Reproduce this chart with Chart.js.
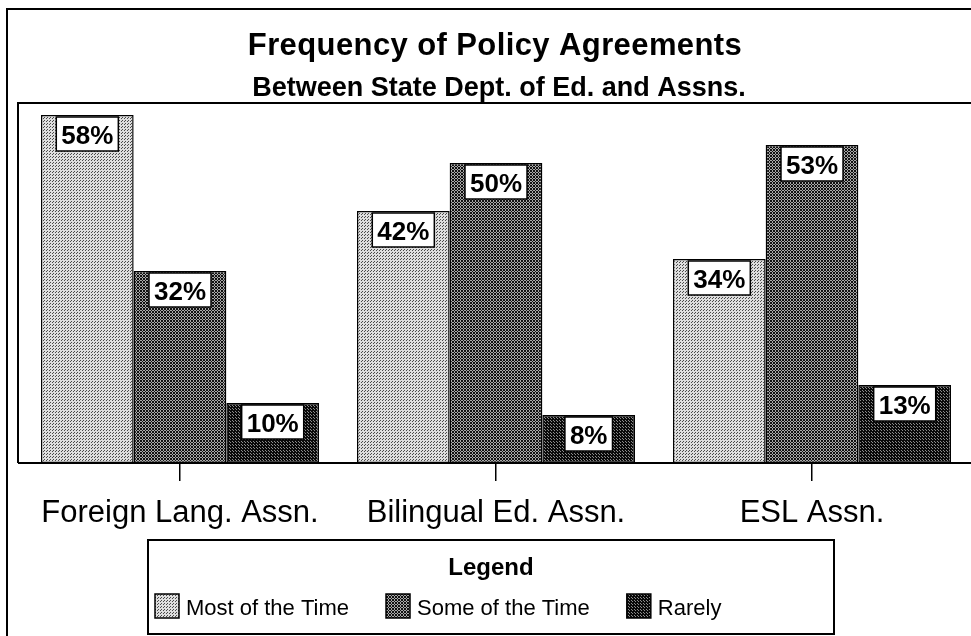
<!DOCTYPE html>
<html>
<head>
<meta charset="utf-8">
<script src="https://cdn.jsdelivr.net/npm/chart.js@4.4.1/dist/chart.umd.min.js"></script>
<style>
  html, body { margin: 0; padding: 0; background: #fff; }
  canvas { display: block; }
</style>
</head>
<body>
<canvas id="chart-policy" width="971" height="636"></canvas>
<script>
const categories = ["Foreign Lang. Assn.", "Bilingual Ed. Assn.", "ESL Assn."];
const seriesNames = ["Most of the Time", "Some of the Time", "Rarely"];
const mostValues = [58, 42, 34];
const someValues = [32, 50, 53];
const rarelyValues = [10, 8, 13];

const FONT = "'Liberation Sans', Arial, Helvetica, sans-serif";

// little dot screens like the printed halftone
function makePattern(base, dot, spots) {
  const c = document.createElement("canvas");
  c.width = 3;
  c.height = 3;
  const g = c.getContext("2d");
  g.fillStyle = base;
  g.fillRect(0, 0, 3, 3);
  g.fillStyle = dot;
  spots.forEach((p) => g.fillRect(p[0], p[1], 1, 1));
  return g.createPattern(c, "repeat");
}

const patternMost = makePattern("#dedede", "#4a4a4a", [[1, 1], [2, 0]]);
const patternSome = makePattern("#a8a8a8", "#111111", [[0, 0], [1, 1], [2, 2], [0, 2], [2, 0]]);
const patternRarely = makePattern("#8c8c8c", "#0a0a0a", [[0, 0], [1, 1], [2, 2], [0, 2], [2, 0], [1, 2], [0, 1]]);

const framePlugin = {
  id: "frames",
  beforeDraw(chart) {
    const ctx = chart.ctx;
    const a = chart.chartArea;
    ctx.save();
    ctx.strokeStyle = "#000";
    ctx.lineWidth = 2;
    // outer frame
    ctx.beginPath();
    ctx.moveTo(7, 636);
    ctx.lineTo(7, 9);
    ctx.lineTo(971, 9);
    ctx.stroke();
    // plot frame
    ctx.beginPath();
    ctx.moveTo(18, a.bottom);
    ctx.lineTo(18, a.top);
    ctx.lineTo(971, a.top);
    ctx.moveTo(18, a.bottom);
    ctx.lineTo(971, a.bottom);
    ctx.stroke();

    // titles
    ctx.fillStyle = "#000";
    ctx.textAlign = "center";
    ctx.textBaseline = "alphabetic";
    ctx.font = "bold 31px " + FONT;
    ctx.letterSpacing = "0.4px";
    ctx.fillText("Frequency of Policy Agreements", 495, 55);
    ctx.font = "bold 27px " + FONT;
    ctx.letterSpacing = "0px";
    ctx.fillText("Between State Dept. of Ed. and Assns.", 499, 96);
    ctx.restore();
  },
  afterDatasetsDraw(chart) {
    const ctx = chart.ctx;
    ctx.save();
    ctx.font = "bold 26px " + FONT;
    ctx.textAlign = "center";
    ctx.textBaseline = "alphabetic";
    chart.data.datasets.forEach((ds, di) => {
      chart.getDatasetMeta(di).data.forEach((bar, i) => {
        const txt = ds.data[i] + "%";
        const w = ctx.measureText(txt).width + 10;
        const h = 34;
        const x = bar.x - w / 2;
        const y = bar.y + 2;
        ctx.fillStyle = "#fff";
        ctx.fillRect(x, y, w, h);
        ctx.strokeStyle = "#000";
        ctx.lineWidth = 1.5;
        ctx.strokeRect(x, y, w, h);
        ctx.fillStyle = "#000";
        ctx.fillText(txt, bar.x, y + 27);
      });
    });
    ctx.restore();
  },
  afterDraw(chart) {
    const ctx = chart.ctx;
    ctx.save();
    // legend box
    const bx = 148, by = 540, bw = 686, bh = 94;
    ctx.strokeStyle = "#000";
    ctx.lineWidth = 2;
    ctx.strokeRect(bx, by, bw, bh);
    ctx.fillStyle = "#000";
    ctx.textAlign = "center";
    ctx.font = "bold 24px " + FONT;
    ctx.fillText("Legend", 491, 575);
    ctx.textAlign = "left";
    ctx.font = "22px " + FONT;
    let cx = 155;
    chart.data.datasets.forEach((ds) => {
      ctx.fillStyle = ds.backgroundColor;
      ctx.fillRect(cx, 594, 24, 24);
      ctx.lineWidth = 1.5;
      ctx.strokeRect(cx, 594, 24, 24);
      cx += 31;
      ctx.fillStyle = "#000";
      ctx.fillText(ds.label, cx, 615);
      cx += ctx.measureText(ds.label).width + 37;
    });
    ctx.restore();
  },
};

const ctxPolicy = document.getElementById("chart-policy").getContext("2d");

const chartPolicy = new Chart(ctxPolicy, {
  type: "bar",
  data: {
    labels: categories,
    datasets: [
      { label: seriesNames[0], data: mostValues, backgroundColor: patternMost },
      { label: seriesNames[1], data: someValues, backgroundColor: patternSome },
      { label: seriesNames[2], data: rarelyValues, backgroundColor: patternRarely },
    ].map((d) => ({
      ...d,
      borderColor: "#000",
      borderWidth: 1.5,
      borderSkipped: false,
      categoryPercentage: 0.88,
      barPercentage: 1,
    })),
  },
  options: {
    responsive: false,
    animation: false,
    layout: {
      padding: { left: 22, right: 1, top: 103, bottom: 0 },
    },
    plugins: {
      legend: { display: false },
      title: { display: false },
      tooltip: { enabled: false },
    },
    scales: {
      x: {
        afterFit: (scale) => {
          scale.height = 173;
        },
        grid: {
          offset: false,
          drawOnChartArea: false,
          drawTicks: true,
          tickLength: 18,
          color: "#000",
          lineWidth: 1.5,
        },
        border: { display: true, color: "#000", width: 2 },
        ticks: {
          color: "#000",
          padding: 14,
          maxRotation: 0,
          font: { family: FONT, size: 31 },
        },
      },
      y: {
        display: false,
        min: 0,
        max: 60,
      },
    },
  },
  plugins: [framePlugin],
});
</script>
</body>
</html>
